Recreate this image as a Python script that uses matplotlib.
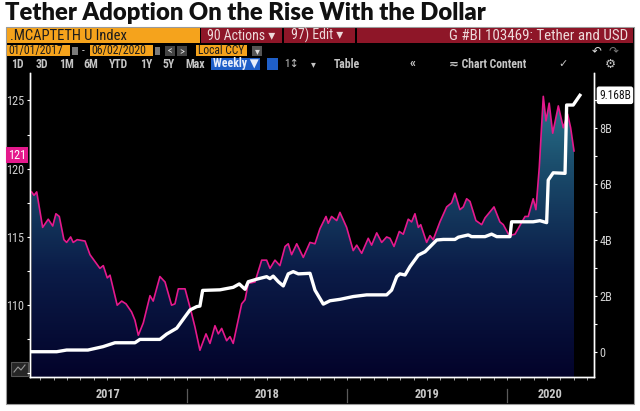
import numpy as np
import matplotlib
matplotlib.use('Agg')
from matplotlib import pyplot as plt
from matplotlib import font_manager, transforms
from matplotlib.colors import LinearSegmentedColormap
from matplotlib.patches import Rectangle

# weekly points (decimal years)
dollar_t = [2017.029, 2017.044, 2017.061, 2017.098, 2017.133, 2017.161, 2017.181, 2017.202,
            2017.231, 2017.248, 2017.273, 2017.289, 2017.314, 2017.363, 2017.394, 2017.456,
            2017.477, 2017.502, 2017.519, 2017.564, 2017.592, 2017.619, 2017.654, 2017.675,
            2017.696, 2017.727, 2017.769, 2017.789, 2017.831, 2017.863, 2017.904, 2017.925,
            2017.946, 2017.988, 2018.029, 2018.050, 2018.081, 2018.119, 2018.144, 2018.175,
            2018.196, 2018.217, 2018.248, 2018.269, 2018.289, 2018.342, 2018.363, 2018.383,
            2018.425, 2018.467, 2018.498, 2018.519, 2018.550, 2018.581, 2018.613, 2018.633,
            2018.654, 2018.686, 2018.727, 2018.769, 2018.800, 2018.831, 2018.869, 2018.883,
            2018.904, 2018.936, 2018.956, 2018.998, 2019.039, 2019.061, 2019.092, 2019.133,
            2019.154, 2019.186, 2019.217, 2019.248, 2019.269, 2019.294, 2019.327, 2019.352,
            2019.383, 2019.404, 2019.425, 2019.446, 2019.461, 2019.498, 2019.519, 2019.539,
            2019.581, 2019.623, 2019.654, 2019.675, 2019.706, 2019.727, 2019.748, 2019.769,
            2019.806, 2019.842, 2019.863, 2019.919, 2019.956, 2019.977, 2020.014, 2020.050,
            2020.113, 2020.133, 2020.164, 2020.181, 2020.202, 2020.227, 2020.244, 2020.264,
            2020.286, 2020.321, 2020.352, 2020.379, 2020.398, 2020.419]
dollar_idx = [118.3, 118.05, 118.3, 115.7, 116.3, 115.8, 116.7, 116.5,
              114.8, 114.6, 115.0, 114.6, 114.8, 114.7, 113.7, 112.7,
              112.9, 112.0, 112.2, 110.0, 110.3, 110.1, 109.5, 108.9,
              107.8, 108.7, 110.7, 110.3, 112.1, 111.7, 110.0, 110.1,
              111.2, 111.2, 109.4, 108.4, 106.7, 107.9, 107.2, 108.5,
              107.9, 108.3, 107.4, 107.7, 107.2, 110.1, 110.4, 111.6,
              111.7, 113.3, 113.3, 112.7, 113.3, 112.9, 114.3, 114.5,
              113.7, 114.5, 113.5, 114.6, 114.5, 115.6, 116.5, 116.0,
              116.5, 116.2, 116.8, 115.7, 114.0, 114.4, 113.8, 114.9,
              114.4, 115.3, 114.6, 115.0, 114.9, 114.3, 115.4, 115.2,
              116.3, 116.1, 116.7, 115.7, 115.9, 114.6, 115.1, 114.8,
              116.1, 117.2, 117.5, 118.2, 117.0, 117.2, 117.8, 117.6,
              116.2, 115.9, 116.4, 117.2, 116.1, 115.9, 115.1, 115.2,
              116.5, 116.5, 117.8, 117.0, 120.1, 125.3, 123.5, 124.8,
              122.6, 124.6, 123.0, 124.0, 123.0, 121.3]

tether_t = [2017.029, 2017.186, 2017.248, 2017.381, 2017.475, 2017.550, 2017.675, 2017.706,
            2017.831, 2017.873, 2017.936, 2017.988, 2018.019, 2018.061, 2018.081, 2018.098,
            2018.206, 2018.289, 2018.327, 2018.363, 2018.383, 2018.436, 2018.498, 2018.519,
            2018.539, 2018.571, 2018.602, 2018.633, 2018.664, 2018.696, 2018.769, 2018.800,
            2018.852, 2018.894, 2018.956, 2019.039, 2019.123, 2019.248, 2019.279, 2019.311,
            2019.331, 2019.363, 2019.394, 2019.446, 2019.488, 2019.561, 2019.602, 2019.675,
            2019.696, 2019.758, 2019.779, 2019.863, 2019.904, 2019.936, 2020.019, 2020.029,
            2020.164, 2020.206, 2020.248, 2020.258, 2020.289, 2020.363, 2020.373, 2020.414,
            2020.456]
tether_cap = [0.01, 0.01, 0.07, 0.07, 0.19, 0.33, 0.33, 0.45,
              0.45, 0.64, 0.85, 1.26, 1.50, 1.62, 1.64, 2.20,
              2.22, 2.31, 2.43, 2.24, 2.51, 2.60, 2.69, 2.62,
              2.71, 2.51, 2.36, 2.79, 2.87, 2.79, 2.81, 2.21,
              1.71, 1.83, 1.88, 1.98, 2.04, 2.04, 2.21, 2.69,
              2.79, 2.75, 3.05, 3.46, 3.58, 4.00, 4.02, 4.02,
              4.10, 4.18, 4.12, 4.12, 4.21, 4.12, 4.12, 4.65,
              4.65, 4.69, 4.62, 6.14, 6.40, 6.38, 8.82, 8.82,
              9.168]

left_ticks = [110, 115, 120, 125]
right_ticks = [0, 2, 4, 6, 8]
years = [2017, 2018, 2019, 2020]

PINK = '#e5198c'
ORANGE = '#f5a31c'
RED = '#8e1628'

names = {f.name for f in font_manager.fontManager.ttflist}
narrow = 'DejaVu Sans'
for cand in ['Roboto Condensed', 'Liberation Sans Narrow']:
    if cand in names:
        narrow = cand
        break
NF = [narrow, 'DejaVu Sans']

fig = plt.figure(figsize=(6.4, 4.11), dpi=100)
fig.patch.set_facecolor('white')

# pixel canvas for the terminal chrome
bg = fig.add_axes([0, 0, 1, 1])
bg.set_xlim(0, 640)
bg.set_ylim(411, 0)
bg.set_autoscale_on(False)
bg.axis('off')

def box(x0, y0, x1, y1, fc, ec='none'):
    bg.add_patch(Rectangle((x0, y0), x1 - x0, y1 - y0, facecolor=fc, edgecolor=ec, lw=0.8))

def txt(x, y, s, c='#c8c8c8', fs=7.5, ha='left', **kw):
    return bg.text(x, y, s, color=c, fontsize=fs, ha=ha, va='center', family=NF, **kw)

title = bg.text(5, 13.5, 'Tether Adoption On the Rise With the Dollar', fontsize=17,
                fontweight='heavy', family=['Lato', 'DejaVu Sans'], color='#111111', va='center')
# stretch the title to the width it has in the screenshot
rend = fig.canvas.get_renderer()
w = title.get_window_extent(renderer=rend).width
title.set_fontsize(17 * 481 / w)

box(6, 27, 634, 404, 'black', ec='#9a9a9a')

# row 1
box(7, 28, 200, 43, ORANGE)
txt(10, 35.8, '.MCAPTETH U Index', c='#1c1c1c', fs=10.5)
box(201, 28, 282, 43, RED)
txt(207, 35.8, '90 Actions \u25be', c='#eddada', fs=10)
box(284, 28, 355, 43, RED)
txt(291, 35.8, '97) Edit \u25be', c='#eddada', fs=10)
box(357, 28, 633, 43, RED)
txt(628, 35.8, 'G #BI 103469: Tether and USD', c='#eddada', fs=10.8, ha='right')

# row 2
box(7, 45, 70, 56, ORANGE)
txt(8.5, 50.8, '01/01/2017', c='#1c1c1c', fs=8.5)
box(72, 47, 78, 55, '#7a7a7a')
txt(83, 50.8, '-', c='#dddddd', fs=8, ha='center')
box(90, 45, 153, 56, ORANGE)
txt(91.5, 50.8, '06/02/2020', c='#1c1c1c', fs=8.5)
box(155, 47, 160, 55, '#7a7a7a')
box(165, 46, 175, 56, '#444444')
txt(170, 50.8, '<', c='#dddddd', fs=7.5, ha='center')
box(177, 46, 187, 56, '#444444')
txt(182, 50.8, '>', c='#dddddd', fs=7.5, ha='center')
box(196, 45, 247, 56, ORANGE)
txt(197.5, 50.8, 'Local CCY', c='#1c1c1c', fs=8.3)
box(252, 46, 262, 56, '#555555')
txt(257, 50.8, '\u25be', c='#dddddd', fs=7, ha='center')
txt(597, 50.8, '\u21b6', c='#dddddd', fs=8.5, ha='center')
txt(613, 50.8, '\u21b7', c='#777777', fs=8.5, ha='center')

# row 3
for lab, cx in zip(['1D', '3D', '1M', '6M', 'YTD', '1Y', '5Y', 'Max'],
                   [17, 42, 66, 91, 118, 146, 169, 195]):
    txt(cx, 64, lab, c='#c4c4c4', fs=8.5, ha='center', fontweight='bold')
box(211, 58, 260, 70, '#1f5fc8')
txt(236, 64, 'Weekly \u25bc', c='#e8eefa', fs=8.5, ha='center', fontweight='bold')
box(267, 58, 278, 70, '#1f5fc8')
txt(292, 64, '1\u2195', c='#c4c4c4', fs=8, ha='center')
txt(313, 64, '\u25be', c='#c4c4c4', fs=7, ha='center')
txt(347, 64, 'Table', c='#c4c4c4', fs=8.5, ha='center', fontweight='bold')
txt(413, 64, '\u00ab', c='#c4c4c4', fs=9.5, ha='center', fontweight='bold')
txt(488, 64, '\u2242 Chart Content', c='#c4c4c4', fs=8.5, ha='center', fontweight='bold')
txt(563, 64, '\u2713', c='#c4c4c4', fs=8, ha='center')
txt(610, 64, '\u2699', c='#c4c4c4', fs=9, ha='center')

# plotting area
L, R, T, B = 30, 594, 73, 377
ax = fig.add_axes([L / 640, (411 - B) / 411, (R - L) / 640, (B - T) / 411])
ax.set_zorder(2)
ax.set_facecolor('black')
ax2 = ax.twinx()
ax2.set_zorder(3)
ax2.patch.set_visible(False)

xlo, xhi = 2017.019, 2020.544
ylo, yhi = 104.74, 127.01

cmap = LinearSegmentedColormap.from_list('bbg', [(0.0, '#03032a'), (0.35, '#0b1c48'),
                                                  (0.7, '#1b4e6d'), (1.0, '#2f8399')])
poly = ax.fill_between(dollar_t, dollar_idx, ylo, facecolor='none', edgecolor='none')
grad = np.linspace(0, 1, 256).reshape(-1, 1)
im = ax.imshow(grad, cmap=cmap, aspect='auto', extent=[0, 1, 0, 1],
               transform=ax.transAxes, origin='lower', zorder=1)
im.set_clip_path(poly.get_paths()[0], transform=ax.transData)
ax.plot(dollar_t, dollar_idx, color=PINK, lw=1.2, zorder=3)
ax2.plot(tether_t, tether_cap, color='white', lw=2.4, zorder=4, solid_joinstyle='round')

ax.set_xlim(xlo, xhi)
ax.set_ylim(ylo, yhi)
ax2.set_ylim(-0.893, 9.964)

for a in (ax, ax2):
    for s in a.spines.values():
        s.set_color('white')
        s.set_linewidth(1.0)
    a.spines['top'].set_visible(False)

ax.set_yticks(left_ticks)
ax.set_yticks(np.arange(105, 127.5, 2.5), minor=True)
ax.set_yticklabels([str(v) for v in left_ticks], family=NF)
ax2.set_yticks(right_ticks)
ax2.set_yticks(np.arange(0, 10, 1), minor=True)
ax2.set_yticklabels(['0' if v == 0 else f'{v}B' for v in right_ticks], family=NF)
for a in (ax, ax2):
    a.tick_params(axis='y', which='both', direction='out', colors='white', labelcolor='#d0d0d0',
                  labelsize=8.8, pad=1.5, length=2.5, width=0.8)
ax.set_xticks([])
ax.set_xticks(np.arange(2017 + 1 / 12, xhi, 1 / 12), minor=True)
ax.tick_params(axis='x', which='minor', direction='out', colors='#bbbbbb', length=2, width=0.6)
ax.grid(False)

# last-value tags
tag = transforms.blended_transform_factory(ax2.transAxes, ax2.transData)
ax2.text(1 + 5 / (R - L), tether_cap[-1], f'{tether_cap[-1]:.3f}B', transform=tag, fontsize=8.3,
         family=NF, color='#111111', va='center', ha='left', clip_on=False,
         bbox=dict(boxstyle='round,pad=0.2', fc='white', ec='none'))
tagl = transforms.blended_transform_factory(ax.transAxes, ax.transData)
ax.text(-4 / (R - L), round(dollar_idx[-1]), f'{round(dollar_idx[-1])}', transform=tagl,
        fontsize=8.8, family=NF, color='white', va='center', ha='right',
        clip_on=False, bbox=dict(boxstyle='square,pad=0.15', fc=PINK, ec='none'))

# legend block
box(33, 74, 382, 108, '#1a1a1a')
bg.add_patch(Rectangle((38, 82), 6.5, 6.5, facecolor='white', edgecolor='none'))
bg.add_patch(Rectangle((38, 97), 6.5, 6.5, facecolor=PINK, edgecolor='none'))
txt(47, 85.5, 'Tether Market Cap. (Coinmarketcap) (R1)', c='#d6d6d6', fs=8.5)
txt(47, 100.5, 'US Fed Trade Weighted Nominal Broad Dollar Index on 5/29/20 (L1)', c='#d6d6d6', fs=8.5)

# year strip
yb = transforms.blended_transform_factory(ax.transData, bg.transData)
for yr in years:
    a0, a1 = max(yr, xlo), min(yr + 1, xhi)
    bg.text((a0 + a1) / 2, 394, str(yr), transform=yb, fontsize=8.8, color='#c8c8c8',
            ha='center', va='center', family=NF, fontweight='bold')
    if yr > years[0]:
        bg.plot([yr, yr], [389, 402], transform=yb, color='#5a5a5a', lw=0.9)

box(11, 362, 28, 376, '#262626', ec='#555555')
bg.plot([14, 18, 21, 25], [372, 367, 370, 365], color='#999999', lw=0.8)

fig.savefig('out.png', dpi=100, facecolor=fig.get_facecolor())
